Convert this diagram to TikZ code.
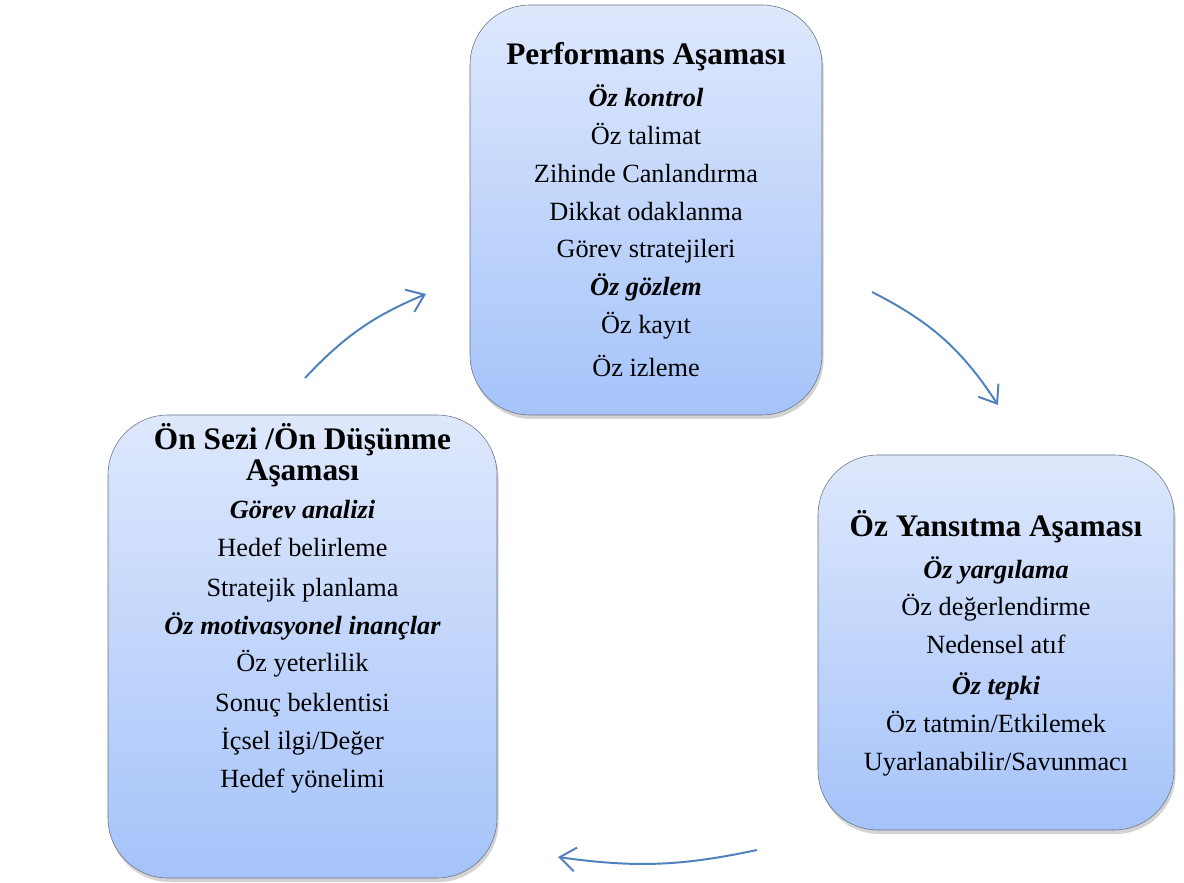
\documentclass[tikz,border=0pt]{standalone}
\usepackage{fontspec}
\setmainfont{Liberation Serif}
\usepackage{xcolor}
\usepackage{tikz}
\usetikzlibrary{arrows.meta,positioning,shadows}
\definecolor{boxtop}{RGB}{222,232,252}
\definecolor{boxbot}{RGB}{165,195,250}
\definecolor{boxline}{RGB}{105,115,130}
\definecolor{arrowblue}{RGB}{79,129,189}
\newcommand{\phtitle}[1]{{\fontsize{22.3}{26.9}\selectfont\bfseries #1}}
\newcommand{\phsub}[1]{{\bfseries\itshape #1}}

\begin{document}
\begin{tikzpicture}[>={Straight Barb[length=4mm,width=6mm]}]
\tikzstyle{phase}=[draw=boxline,rounded corners=1.5cm,top color=boxtop,bottom color=boxbot,drop shadow={shadow xshift=0.4mm,shadow yshift=-1mm,opacity=0.35}]
\tikzstyle{txt}=[align=center,font=\fontsize{18.7}{26.9}\selectfont,inner sep=0]
\tikzstyle{cyc}=[->,draw=arrowblue,line width=1.4pt]
\useasboundingbox (0,0) rectangle (29.6,22.05);
% the three phase boxes
\node[phase,minimum width=8.8cm,minimum height=10.25cm] (perf) at (16.15,16.8) {};
\node[phase,minimum width=9.725cm,minimum height=11.575cm] (fore) at (7.5625,5.8875) {};
\node[phase,minimum width=8.9cm,minimum height=9.375cm] (refl) at (24.9,5.9875) {};
% their texts
\node[txt] (perftxt) at (16.15,16.82) {\phtitle{Performans Aşaması}\\[0.12cm]
  \phsub{Öz kontrol}\\ Öz talimat\\ Zihinde Canlandırma\\ Dikkat odaklanma\\
  Görev stratejileri\\ \phsub{Öz gözlem}\\ Öz kayıt\\[0.12cm] Öz izleme};
\node[txt] (foretxt) at (7.5625,6.85) {\phtitle{Ön Sezi /Ön Düşünme}\\[-0.15cm]
  \phtitle{Aşaması}\\ \phsub{Görev analizi}\\ Hedef belirleme\\[0.05cm] Stratejik planlama\\
  \phsub{Öz motivasyonel inançlar}\\ Öz yeterlilik\\[0.05cm] Sonuç beklentisi\\
  İçsel ilgi/Değer\\ Hedef yönelimi};
\node[txt] (refltxt) at (24.9,5.97) {\phtitle{Öz Yansıtma Aşaması}\\[0.1cm]
  \phsub{Öz yargılama}\\ Öz değerlendirme\\ Nedensel atıf\\[0.08cm]
  \phsub{Öz tepki}\\ Öz tatmin/Etkilemek\\ Uyarlanabilir/Savunmacı};
% cycle arrows
\coordinate (a1) at (7.625,12.6);
\coordinate (a2) at (10.65,14.7);
\coordinate (b1) at (21.8,14.75);
\coordinate (b2) at (24.95,11.925);
\coordinate (c1) at (18.925,0.8);
\coordinate (c2) at (13.95,0.625);
\draw[cyc] (a1) to[bend left=12] (a2);
\draw[cyc] (b1) to[bend left=15] (b2);
\draw[cyc] (c1) to[bend left=10] (c2);
\end{tikzpicture}
\end{document}
